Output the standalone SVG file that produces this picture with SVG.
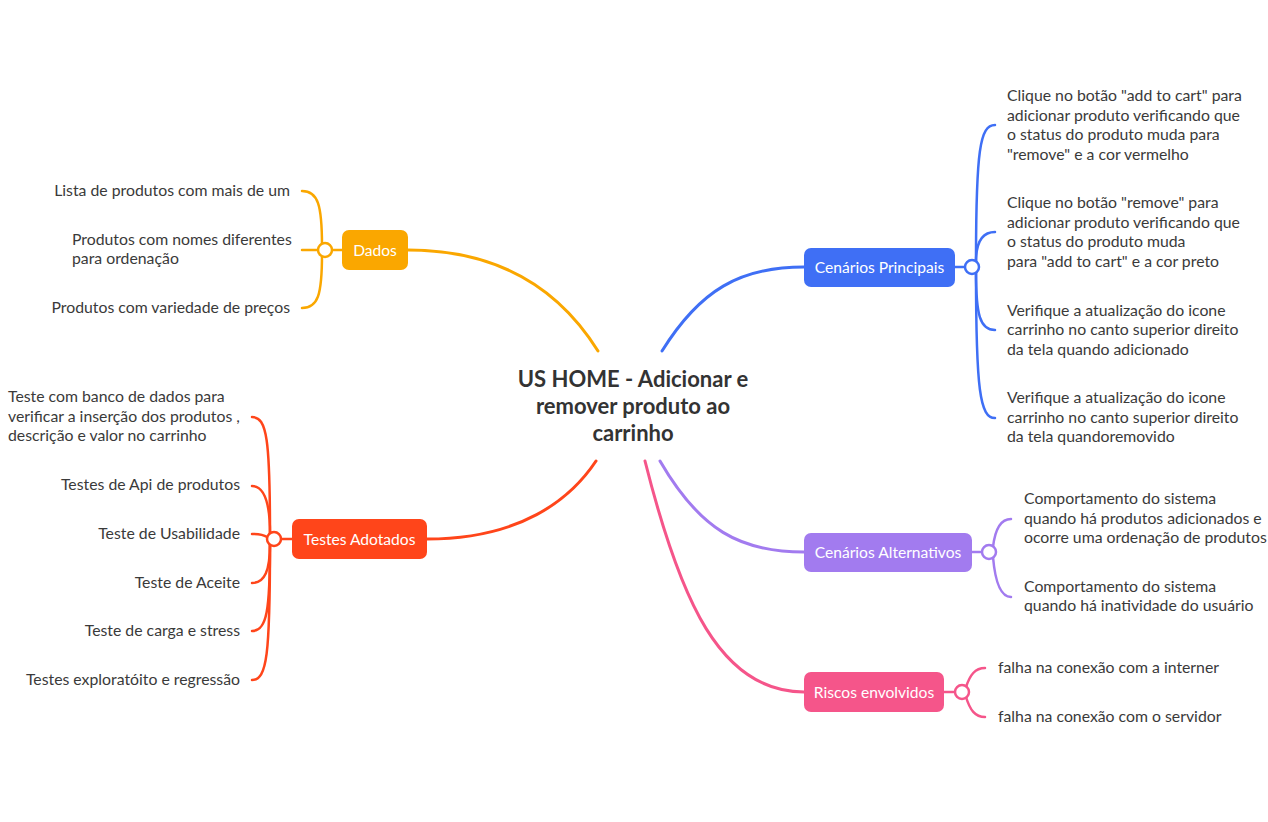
<svg xmlns="http://www.w3.org/2000/svg" width="1268" height="822" viewBox="0 0 1268 822">
<style>
.leaf{font-family:Lato,"Noto Sans",sans-serif;font-size:15.8px;fill:#3a3a3a}
.r{text-anchor:end}
.box{font-family:Lato,"Noto Sans",sans-serif;font-size:15.6px;fill:#fff;text-anchor:middle}
.title{font-family:Lato,"Noto Sans",sans-serif;font-size:22px;font-weight:bold;fill:#333;text-anchor:middle}
.c{fill:none;stroke-width:3;stroke-linecap:round}
.b{fill:none;stroke-width:2.5;stroke-linecap:round}
.o{stroke:#FAA700}.bl{stroke:#3F6FF5}.rd{stroke:#FF451A}.pu{stroke:#A27BEF}.pk{stroke:#F5558A}
.k{fill:#fff;stroke-width:2.5}
</style>
<rect width="1268" height="822" fill="#fff"/>
<g id="connectors">
<path class="c o" d="M408,250 C500,250 560,290 598,351"/>
<path class="c bl" d="M662,351 C700,290 740,267 804,267"/>
<path class="c rd" d="M427,539 C520,539 570,500 596,461"/>
<path class="c pu" d="M660,461 C700,530 740,552 804,552"/>
<path class="c pk" d="M645,461 C680,600 720,692 804,692"/>
<path class="b o" d="M342,250 L325,250"/>
<path class="b o" d="M322,246 C322,205 318,191 302,191"/>
<path class="b o" d="M318,250 L302,250"/>
<path class="b o" d="M322,254 C322,295 318,308 302,308"/>
<path class="b bl" d="M955,267 L972,267"/>
<path class="b bl" d="M976,262 C976,150 980,125 995,125"/>
<path class="b bl" d="M976,262 C976,245 980,232 995,232"/>
<path class="b bl" d="M976,272 C976,315 980,330 995,330"/>
<path class="b bl" d="M976,272 C976,390 980,418 995,418"/>
<path class="b rd" d="M292,539 L274,539"/>
<path class="b rd" d="M270,534 C270,440 267,417 252,417"/>
<path class="b rd" d="M270,534 C270,505 265,486 252,486"/>
<path class="b rd" d="M267,537 C264,535 258,534 252,534"/>
<path class="b rd" d="M270,544 C270,570 265,583 252,583"/>
<path class="b rd" d="M270,544 C270,610 267,631 252,631"/>
<path class="b rd" d="M270,544 C270,655 267,680 252,680"/>
<path class="b pu" d="M972,552 L989,552"/>
<path class="b pu" d="M993,547 C995,530 1000,519 1011,519"/>
<path class="b pu" d="M993,557 C995,580 1000,597 1011,597"/>
<path class="b pk" d="M944,692 L962,692"/>
<path class="b pk" d="M966,687 C970,675 975,668 985,668"/>
<path class="b pk" d="M966,697 C970,710 975,717 985,717"/>
</g>
<g id="center">
<text class="title" x="633" y="387">US HOME - Adicionar e</text>
<text class="title" x="633" y="414">remover produto ao</text>
<text class="title" x="633" y="441">carrinho</text>
</g>
<g id="dados">
<rect x="342" y="230" width="66" height="40" rx="7" fill="#FAA700"/>
<text class="box" x="375" y="255.5">Dados</text>
<circle class="k o" cx="325" cy="250" r="7"/>
</g>
<g id="dados-leaves">
<text class="leaf r" x="290" y="196">Lista de produtos com mais de um</text>
<text class="leaf" x="72" y="245">Produtos com nomes diferentes</text>
<text class="leaf" x="72" y="264">para ordenação</text>
<text class="leaf r" x="290" y="313">Produtos com variedade de preços</text>
</g>
<g id="principais">
<rect x="804" y="248" width="151" height="39" rx="7" fill="#3F6FF5"/>
<text class="box" x="879.5" y="272.5">Cenários Principais</text>
<circle class="k bl" cx="972" cy="267" r="7"/>
</g>
<g id="principais-leaves">
<text class="leaf" x="1007" y="101">Clique no botão "add to cart" para</text>
<text class="leaf" x="1007" y="121">adicionar produto verificando que</text>
<text class="leaf" x="1007" y="140">o status do produto muda para</text>
<text class="leaf" x="1007" y="160">"remove" e a cor vermelho</text>
<text class="leaf" x="1007" y="208">Clique no botão "remove" para</text>
<text class="leaf" x="1007" y="228">adicionar produto verificando que</text>
<text class="leaf" x="1007" y="247">o status do produto muda</text>
<text class="leaf" x="1007" y="267">para "add to cart" e a cor preto</text>
<text class="leaf" x="1007" y="316">Verifique a atualização do icone</text>
<text class="leaf" x="1007" y="335">carrinho no canto superior direito</text>
<text class="leaf" x="1007" y="355">da tela quando adicionado</text>
<text class="leaf" x="1007" y="403">Verifique a atualização do icone</text>
<text class="leaf" x="1007" y="423">carrinho no canto superior direito</text>
<text class="leaf" x="1007" y="442">da tela quandoremovido</text>
</g>
<g id="testes">
<rect x="292" y="519" width="135" height="40" rx="7" fill="#FF451A"/>
<text class="box" x="359.5" y="544.5">Testes Adotados</text>
<circle class="k rd" cx="274" cy="539" r="7"/>
</g>
<g id="testes-leaves">
<text class="leaf" x="8" y="402">Teste com banco de dados para</text>
<text class="leaf" x="8" y="422">verificar a inserção dos produtos ,</text>
<text class="leaf" x="8" y="441">descrição e valor no carrinho</text>
<text class="leaf r" x="240" y="490">Testes de Api de produtos</text>
<text class="leaf r" x="240" y="539">Teste de Usabilidade</text>
<text class="leaf r" x="240" y="588">Teste de Aceite</text>
<text class="leaf r" x="240" y="636">Teste de carga e stress</text>
<text class="leaf r" x="240" y="685">Testes exploratóito e regressão</text>
</g>
<g id="alternativos">
<rect x="804" y="533" width="168" height="39" rx="7" fill="#A27BEF"/>
<text class="box" x="888" y="557.5">Cenários Alternativos</text>
<circle class="k pu" cx="989" cy="552" r="7"/>
</g>
<g id="alternativos-leaves">
<text class="leaf" x="1024" y="504">Comportamento do sistema</text>
<text class="leaf" x="1024" y="524">quando há produtos adicionados e</text>
<text class="leaf" x="1024" y="543">ocorre uma ordenação de produtos</text>
<text class="leaf" x="1024" y="592">Comportamento do sistema</text>
<text class="leaf" x="1024" y="611">quando há inatividade do usuário</text>
</g>
<g id="riscos">
<rect x="804" y="672" width="140" height="40" rx="7" fill="#F5558A"/>
<text class="box" x="874" y="697.5">Riscos envolvidos</text>
<circle class="k pk" cx="962" cy="692" r="7"/>
</g>
<g id="riscos-leaves">
<text class="leaf" x="998" y="673">falha na conexão com a interner</text>
<text class="leaf" x="998" y="722">falha na conexão com o servidor</text>
</g>
</svg>
